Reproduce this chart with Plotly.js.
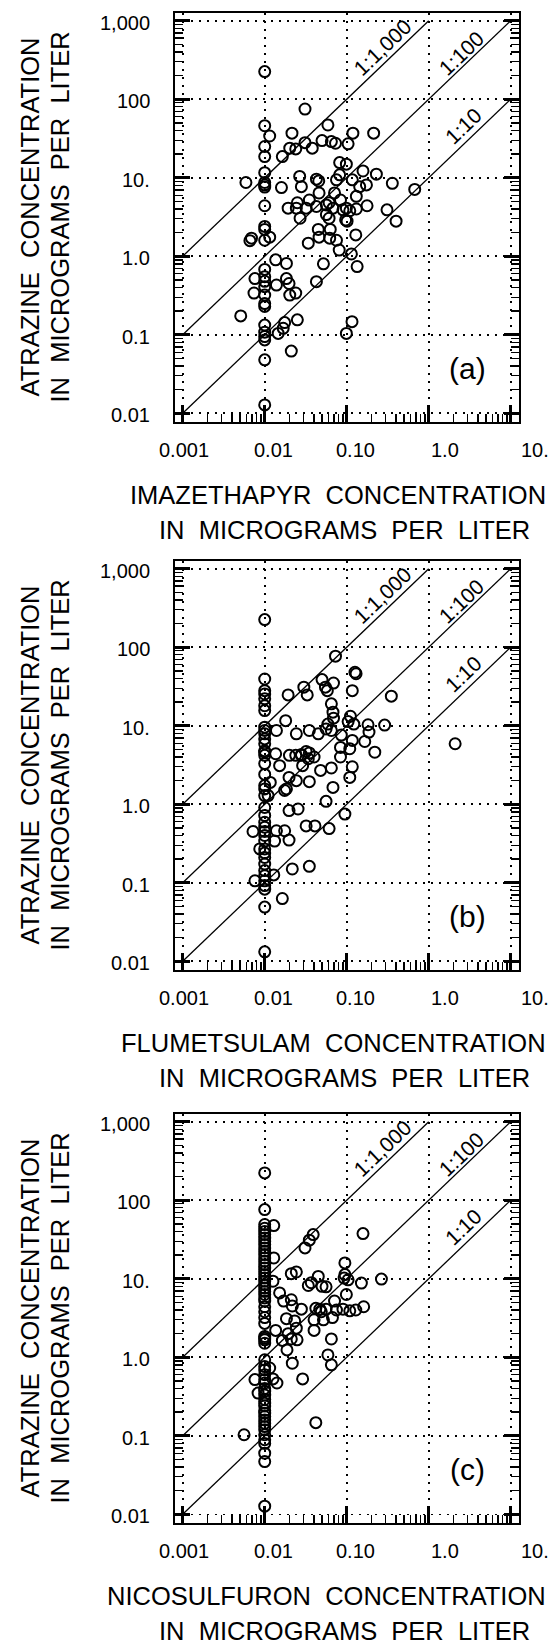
<!DOCTYPE html>
<html><head><meta charset="utf-8">
<script src="https://cdn.plot.ly/plotly-3.0.1.min.js"></script>
<style>html,body{margin:0;padding:0;background:#fff;}#chart{width:556px;height:1647px;}</style>
</head><body><div id="chart"></div>
<script>
// ---------------- data ----------------
const panelLetters = ['(a)', '(b)', '(c)'];
const xTitleLine1 = ['IMAZETHAPYR\u00A0\u00A0CONCENTRATION', 'FLUMETSULAM\u00A0\u00A0CONCENTRATION', 'NICOSULFURON\u00A0\u00A0CONCENTRATION'];
const xTitleLine2 = 'IN\u00A0\u00A0MICROGRAMS\u00A0\u00A0PER\u00A0\u00A0LITER';
const yTitleLine1 = 'ATRAZINE\u00A0\u00A0CONCENTRATION';
const yTitleLine2 = 'IN\u00A0\u00A0MICROGRAMS\u00A0\u00A0PER\u00A0\u00A0LITER';
const xTickValues = [0.001, 0.01, 0.1, 1, 10];
const xTickLabels = ['0.001', '0.01', '0.10', '1.0', '10.'];
const yTickValues = [0.01, 0.1, 1, 10, 100, 1000];
const yTickLabels = ['0.01', '0.1', '1.0', '10.', '100', '1,000'];
const ratioValues = [1000, 100, 10];
const ratioLabels = ['1:1,000', '1:100', '1:10'];

// (a) imazethapyr vs atrazine
const imazethapyrX = [
 0.01,0.01,0.01,0.01,0.01,0.01,0.01,0.01,0.01,0.01,0.01,0.01,0.01,0.01,0.01,0.01,0.01,0.01,0.01,0.01,0.01,0.01,0.01,0.01,0.01,
 0.0115,0.031,0.0215,0.059,0.119,0.213,0.0164,0.0202,0.0239,0.031,0.038,0.050,0.065,0.073,0.104,0.082,0.099,0.158,0.23,0.36,0.675,
 0.0059,0.016,0.0267,0.028,0.0427,0.0456,0.075,0.082,0.117,0.174,0.144,0.046,0.035,0.025,0.0193,0.0243,0.032,0.0427,0.0565,0.061,
 0.068,0.071,0.084,0.090,0.099,0.109,0.131,0.131,0.177,0.31,0.40,0.0565,0.061,0.027,0.097,0.101,0.0069,0.0066,0.0115,0.034,0.045,
 0.046,0.063,0.062,0.075,0.081,0.129,0.114,0.134,0.052,0.0136,0.0184,0.0427,0.0076,0.0074,0.0139,0.0184,0.0198,0.0202,0.0239,
 0.0051,0.0175,0.025,0.0146,0.0168,0.0211,0.099,0.116];
const imazethapyrAtrazineY = [
 225,46,25,18.6,11.6,8.7,8.1,7.6,4.4,2.4,2.2,1.6,0.68,0.55,0.48,0.41,0.32,0.25,0.23,0.133,0.108,0.095,0.086,0.048,0.0128,
 34,75,37,47,37,37,18.6,23.8,23.3,28,23.8,29.7,28.9,27.5,27,15.6,14.9,12.2,11.1,8.5,7.1,
 8.7,7.5,10.4,7.7,9.6,9.1,9.4,10.9,9.4,8.1,7.7,6.4,5.2,4.8,4.1,4.1,4.1,4.3,4.5,4.8,
 4.1,6.4,5.2,3.9,4.1,3.8,5.8,4.0,4.4,3.9,2.8,3.4,3.05,3.05,2.9,2.8,1.7,1.58,1.75,1.47,2.2,
 1.75,2.2,1.7,1.6,1.2,1.87,1.07,0.74,0.80,0.90,0.81,0.475,0.52,0.34,0.43,0.52,0.45,0.32,0.34,
 0.174,0.143,0.155,0.104,0.121,0.062,0.104,0.147];

// (b) flumetsulam vs atrazine
const flumetsulamX = [
 0.01,0.01,0.01,0.01,0.01,0.01,0.01,0.01,0.01,0.01,0.01,0.01,0.01,0.01,0.01,0.01,0.01,0.01,0.01,0.01,
 0.01,0.01,0.01,0.01,0.01,0.01,0.01,0.01,0.01,0.01,0.01,0.01,0.01,0.01,0.01,0.01,0.01,0.01,
 0.073,0.126,0.13,0.050,0.069,0.030,0.055,0.058,0.033,0.0193,0.117,0.35,0.065,0.068,0.069,0.111,0.104,0.122,0.018,0.059,
 0.056,0.065,0.035,0.045,0.0243,0.0139,0.182,0.187,0.29,0.166,0.22,0.086,0.117,0.109,0.084,0.084,0.117,0.109,0.065,0.068,
 0.056,0.048,0.034,0.028,0.020,0.0239,0.028,0.032,0.035,0.040,0.029,0.0136,0.0152,0.0117,0.0198,0.0243,0.0184,0.0175,0.035,0.011,
 0.0198,0.0255,0.032,0.041,0.061,0.095,0.0072,0.0139,0.0175,0.0132,0.0198,0.0087,0.0217,0.035,0.0076,0.0129,0.0164,2.1];
const flumetsulamAtrazineY = [
 225,39.4,28,25.4,22,18,15.6,9.6,8.7,7.9,6.8,5.9,4.8,4.6,4.2,3.3,2.4,1.73,1.57,1.29,
 0.91,0.72,0.59,0.51,0.45,0.40,0.34,0.27,0.24,0.21,0.173,0.143,0.123,0.106,0.092,0.083,0.049,0.0132,
 77,48,46,38.7,35,31,31,28,24.7,24.7,28,23.8,19,14.9,12.5,13.2,11.3,10.5,11.6,10.5,
 9.1,8.7,8.7,7.9,7.9,8.7,10.3,8.3,10.2,6.3,4.6,7.6,6.5,5.1,5.3,4.0,3.0,2.2,2.9,1.64,
 1.09,2.7,3.8,4.2,4.2,4.2,4.3,4.7,4.5,4.0,3.1,4.4,3.1,1.9,2.2,2.0,1.57,1.5,1.94,1.29,
 0.83,0.87,0.53,0.53,0.49,0.75,0.45,0.46,0.46,0.34,0.35,0.27,0.15,0.162,0.106,0.126,0.063,5.9];

// (c) nicosulfuron vs atrazine
const nicosulfuronX = [
 0.01,0.01,0.01,0.01,0.01,0.01,0.01,0.01,0.01,0.01,0.01,0.01,0.01,0.01,0.01,0.01,0.01,0.01,0.01,0.01,
 0.01,0.01,0.01,0.01,0.01,0.01,0.01,0.01,0.01,0.01,0.01,0.01,0.01,0.01,0.01,0.01,0.01,0.01,0.01,0.01,
 0.01,0.01,0.01,0.01,0.01,0.01,0.01,0.01,0.01,0.01,0.01,0.01,0.01,0.01,0.01,0.01,0.01,0.01,0.01,
 0.0129,0.039,0.035,0.031,0.158,0.0129,0.095,0.095,0.093,0.104,0.151,0.265,0.0211,0.0243,0.0126,0.045,0.034,0.037,0.050,0.056,
 0.0152,0.017,0.0211,0.0217,0.028,0.042,0.047,0.049,0.056,0.071,0.099,0.075,0.090,0.109,0.129,0.161,0.0184,0.0232,0.0243,0.040,
 0.052,0.067,0.040,0.0136,0.0193,0.0211,0.0248,0.0164,0.0187,0.065,0.059,0.065,0.0217,0.029,0.0115,0.0076,0.0083,0.0141,0.0126,0.042,0.0056];
const nicosulfuronAtrazineY = [
 223,76,49,44,40,36.5,33,30,27.2,24.7,22.4,20.3,18.4,16.7,15.1,13.7,12.4,11.3,10.2,9.3,
 8.4,7.6,6.9,6.3,5.7,5.2,4.4,3.8,3.2,2.7,1.84,1.75,1.67,1.51,0.93,0.76,0.69,0.60,0.52,0.47,
 0.40,0.37,0.33,0.29,0.26,0.24,0.21,0.194,0.176,0.159,0.144,0.131,0.119,0.103,0.089,0.080,0.060,0.047,0.0127,
 47.5,36.5,31,24.7,37.6,18.4,15.9,11.3,10.2,9.7,8.8,9.9,11.6,12.2,9.3,10.7,8.2,8.9,8.0,7.9,
 6.6,5.2,5.4,4.5,4.1,4.2,4.1,3.8,4.1,5.2,6.3,4.0,4.1,3.9,4.0,4.4,3.1,2.9,2.35,3.0,
 3.0,3.2,2.2,2.2,2.0,1.71,1.67,1.64,1.24,1.71,1.07,0.80,0.84,0.53,0.73,0.52,0.35,0.47,0.53,0.147,0.103];

const panelX = [imazethapyrX, flumetsulamX, nicosulfuronX];
const panelY = [imazethapyrAtrazineY, flumetsulamAtrazineY, nicosulfuronAtrazineY];

// ---------------- layout geometry (pixels) ----------------
const W = 556, H = 1647;
const FONT = 'Liberation Sans, Arial, Helvetica, sans-serif';
const frameTop = [12.7, 560.7, 1113.7];
const frameH = 409;
const frameL = 175, frameR = 519;
const xRange = [-3.094, 1.101];
const yRange = [-2.107, 3.102];
const xLabelPx = [184, 273.5, 355, 445, 535];
const ratioLabelLogX = [-0.57, 0.394, 0.43];
const ratioLabelLift = [0.235, 0.19, 0.23];
const letterPx = [467, 356];   // centre of panel letter, relative to frame left edge of page / frame top
const py = p => 1 - p / H;

function minorVals(d0, d1) {
  const out = [];
  for (let d = d0; d <= d1; d++) for (let k = 2; k <= 9; k++) out.push(k * Math.pow(10, d));
  return out;
}

const traces = [];
const layout = {
  width: W, height: H,
  margin: {l: 0, r: 0, t: 0, b: 0},
  paper_bgcolor: '#fff', plot_bgcolor: '#fff',
  showlegend: false,
  font: {family: FONT, color: '#000'},
  annotations: []
};

for (let i = 0; i < 3; i++) {
  const sfx = i ? String(i + 1) : '';
  const xa = 'x' + sfx, ya = 'y' + sfx;
  const mxa = 'x' + (i + 4), mya = 'y' + (i + 4);
  const top = frameTop[i], bot = frameTop[i] + frameH;

  // overlay subplot carrying the minor ticks only
  traces.push({x: [], y: [], xaxis: mxa, yaxis: mya, mode: 'markers', hoverinfo: 'skip'});

  // reference ratio lines
  ratioValues.forEach(r => {
    const xEnd = Math.min(10, 1000 / r);
    traces.push({x: [0.001, xEnd], y: [0.001 * r, xEnd * r], xaxis: xa, yaxis: ya,
      mode: 'lines', line: {color: '#000', width: 1.3}, hoverinfo: 'skip'});
  });
  // data
  traces.push({x: panelX[i], y: panelY[i], xaxis: xa, yaxis: ya, mode: 'markers',
    marker: {symbol: 'circle-open', size: 11, color: '#000', line: {color: '#000', width: 2}}});

  layout['xaxis' + sfx] = {
    type: 'log', range: xRange, domain: [frameL / W, frameR / W], anchor: ya,
    showline: true, linecolor: '#000', linewidth: 2, mirror: true,
    ticks: 'inside', ticklen: 17, tickwidth: 3, tickcolor: '#000',
    tickmode: 'array', tickvals: xTickValues, showticklabels: false,
    showgrid: true, gridcolor: '#000', gridwidth: 1.6, griddash: '2px,6px',
    zeroline: false, fixedrange: true
  };
  layout['yaxis' + sfx] = {
    type: 'log', range: yRange, domain: [py(bot), py(top)], anchor: xa,
    showline: true, linecolor: '#000', linewidth: 2, mirror: 'allticks',
    ticks: 'inside', ticklen: 15, tickwidth: 3, tickcolor: '#000',
    tickmode: 'array', tickvals: yTickValues, showticklabels: false,
    showgrid: true, gridcolor: '#000', gridwidth: 1.6, griddash: '2px,6px',
    zeroline: false, fixedrange: true
  };
  layout['xaxis' + (i + 4)] = {
    type: 'log', range: xRange, overlaying: xa, anchor: mya, side: 'bottom',
    showline: false, ticks: 'inside', ticklen: 8, tickwidth: 1.3, tickcolor: '#000',
    tickmode: 'array', tickvals: minorVals(-3, 1), showticklabels: false,
    showgrid: false, zeroline: false, fixedrange: true
  };
  layout['yaxis' + (i + 4)] = {
    type: 'log', range: yRange, overlaying: ya, anchor: mxa, side: 'left',
    showline: false, mirror: 'allticks', ticks: 'inside', ticklen: 8, tickwidth: 1.3, tickcolor: '#000',
    tickmode: 'array', tickvals: minorVals(-2, 2), showticklabels: false,
    showgrid: false, zeroline: false, fixedrange: true
  };

  const A = layout.annotations;
  // y tick labels
  yTickValues.forEach((v, j) => A.push({xref: 'paper', x: 152 / W, xanchor: 'right', yref: ya, y: Math.log10(v),
    yanchor: 'middle', yshift: -2, text: yTickLabels[j], showarrow: false, font: {size: 20, family: FONT}}));
  // x tick labels
  xTickLabels.forEach((t, j) => A.push({xref: 'paper', x: xLabelPx[j] / W, xanchor: 'center', yref: 'paper',
    y: py(bot + 28.5), yanchor: 'middle', text: t, showarrow: false, font: {size: 20, family: FONT}}));
  // x title (two lines)
  A.push({xref: 'paper', x: 548 / W, xanchor: 'right', yref: 'paper', y: py(bot + 73.5), yanchor: 'middle',
    text: xTitleLine1[i], showarrow: false, font: {size: 25.5, family: FONT}});
  A.push({xref: 'paper', x: 532 / W, xanchor: 'right', yref: 'paper', y: py(bot + 108.5), yanchor: 'middle',
    text: xTitleLine2, showarrow: false, font: {size: 25.5, family: FONT}});
  // y title (two lines, rotated)
  A.push({xref: 'paper', x: 30.2 / W, xanchor: 'center', yref: 'paper', y: py(top + frameH / 2), yanchor: 'middle',
    textangle: -90, text: yTitleLine1, showarrow: false, font: {size: 25.5, family: FONT}});
  A.push({xref: 'paper', x: 60.3 / W, xanchor: 'center', yref: 'paper', y: py(top + frameH / 2), yanchor: 'middle',
    textangle: -90, text: yTitleLine2, showarrow: false, font: {size: 25.5, family: FONT}});
  // ratio line labels
  ratioValues.forEach((r, j) => A.push({xref: xa, yref: ya, x: ratioLabelLogX[j],
    y: ratioLabelLogX[j] + Math.log10(r) + ratioLabelLift[j], xanchor: 'center', yanchor: 'middle',
    textangle: -43.75, text: ratioLabels[j], showarrow: false, font: {size: 21, family: FONT}}));
  // panel letter
  A.push({xref: 'paper', yref: 'paper', x: letterPx[0] / W, y: py(top + letterPx[1]), xanchor: 'center', yanchor: 'middle',
    text: panelLetters[i], showarrow: false, font: {size: 30, family: FONT}});
}

Plotly.newPlot('chart', traces, layout, {staticPlot: true, displayModeBar: false});
</script></body></html>
